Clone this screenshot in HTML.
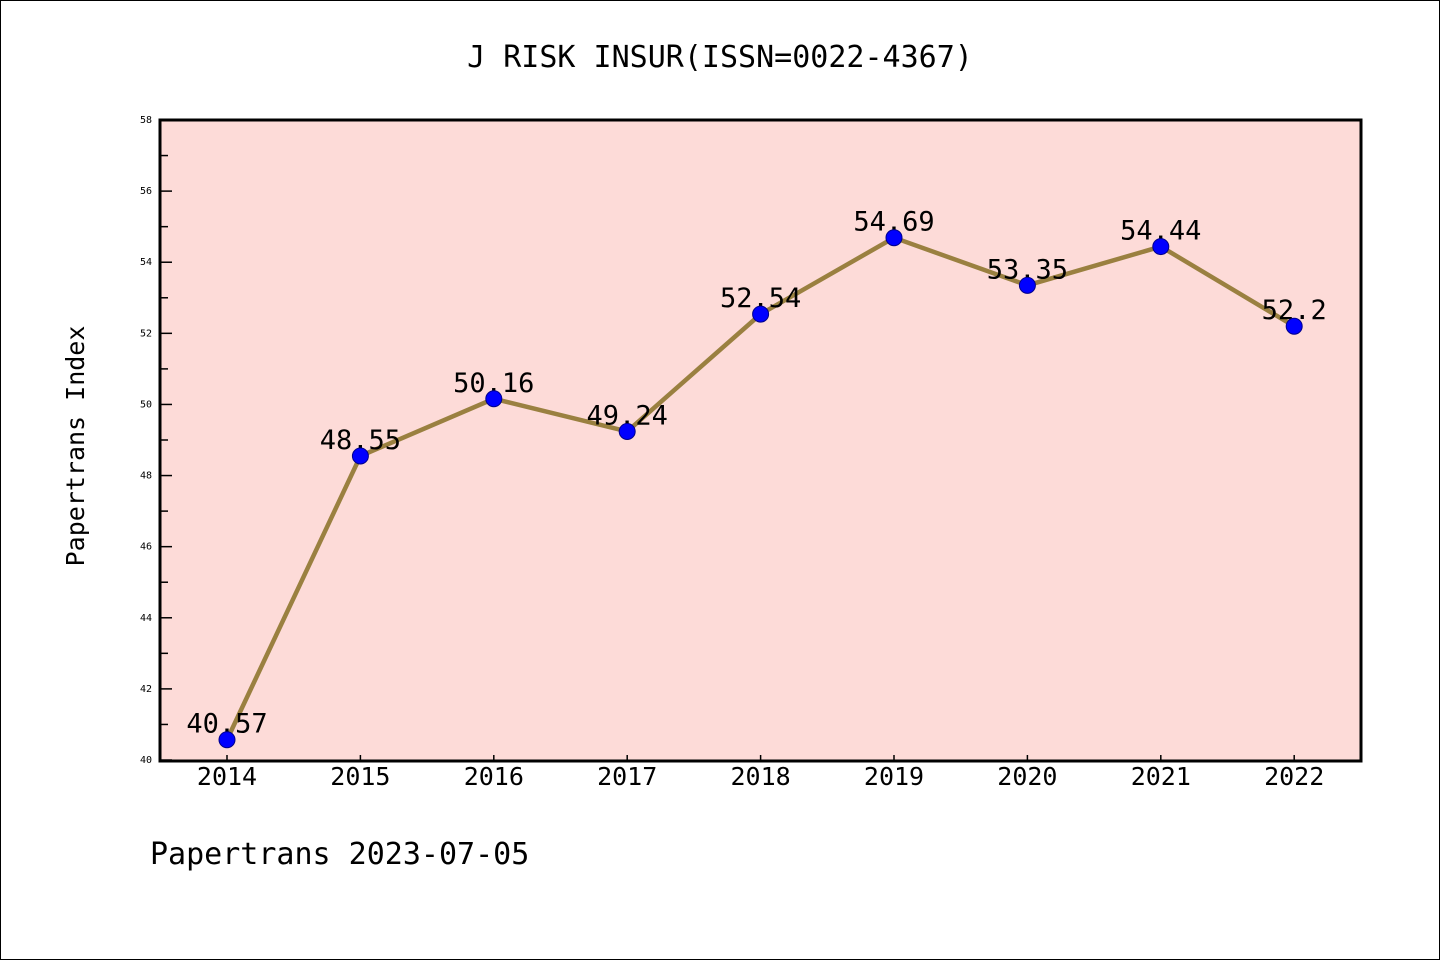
<!DOCTYPE html>
<html><head><meta charset="utf-8"><style>
body{margin:0;background:#fff}
svg text{font-family:"DejaVu Sans Mono","Liberation Mono",monospace}
</style></head><body>
<svg width="1440" height="960" viewBox="0 0 1440 960">
<rect x="0.5" y="0.5" width="1439" height="959" fill="#fff" stroke="#000"/>
<text x="720" y="67" text-anchor="middle" font-size="30">J RISK INSUR(ISSN=0022-4367)</text>
<rect x="160" y="120" width="1201" height="641" fill="#fddbd8"/>
<g id="axes"></g>
<g id="marks"></g>
<rect x="160" y="120" width="1201" height="641" fill="none" stroke="#000" stroke-width="3"/>
<text transform="translate(84,446) rotate(-90)" text-anchor="middle" font-size="25">Papertrans Index</text>
<text x="150" y="864" font-size="30">Papertrans 2023-07-05</text>
</svg>
<script>
const years=["2014","2015","2016","2017","2018","2019","2020","2021","2022"];
const values=[40.57,48.55,50.16,49.24,52.54,54.69,53.35,54.44,52.2];
const yTicks=[40,42,44,46,48,50,52,54,56,58];
const NS="http://www.w3.org/2000/svg";
const xS=i=>227+i*133.4;
const yS=v=>760-(v-40)*(640/18);
function mk(t,a,p){const e=document.createElementNS(NS,t);for(const k in a)e.setAttribute(k,a[k]);p.appendChild(e);return e;}
const ax=document.getElementById('axes'),mg=document.getElementById('marks');
yTicks.forEach(v=>{
 const y=yS(v);
 const t=mk('line',{x1:160,x2:172,y1:y,y2:y,stroke:'#000','stroke-width':1.5},ax);
 
 
 const l=mk('text',{x:152,y:y+3,'text-anchor':'end','font-size':10},ax);l.textContent=v;
 
 
 if(v<58){const m=mk('line',{x1:160,x2:168,y1:yS(v+1),y2:yS(v+1),stroke:'#000','stroke-width':1.5},ax);
 
 }
});
years.forEach((yr,i)=>{
 const x=xS(i);
 const t=mk('line',{x1:x,x2:x,y1:755,y2:761,stroke:'#000','stroke-width':1.5},ax);
 
 
 const l=mk('text',{x:x,y:785,'text-anchor':'middle','font-size':25},ax);l.textContent=yr;
 
 
});
const pl=mk('polyline',{points:values.map((v,i)=>xS(i)+','+yS(v)).join(' '),fill:'none',stroke:'#9a8040','stroke-width':4.5},mg);


values.forEach((v,i)=>{
 const l=mk('text',{x:xS(i),y:yS(v)-7,'text-anchor':'middle','font-size':27},mg);l.textContent=v;
 
 
});
values.forEach((v,i)=>{
 const c=mk('circle',{cx:xS(i),cy:yS(v),r:8,fill:'#0000ff',stroke:'#00008b','stroke-width':1},mg);
 
 
});
</script>
</body></html>
